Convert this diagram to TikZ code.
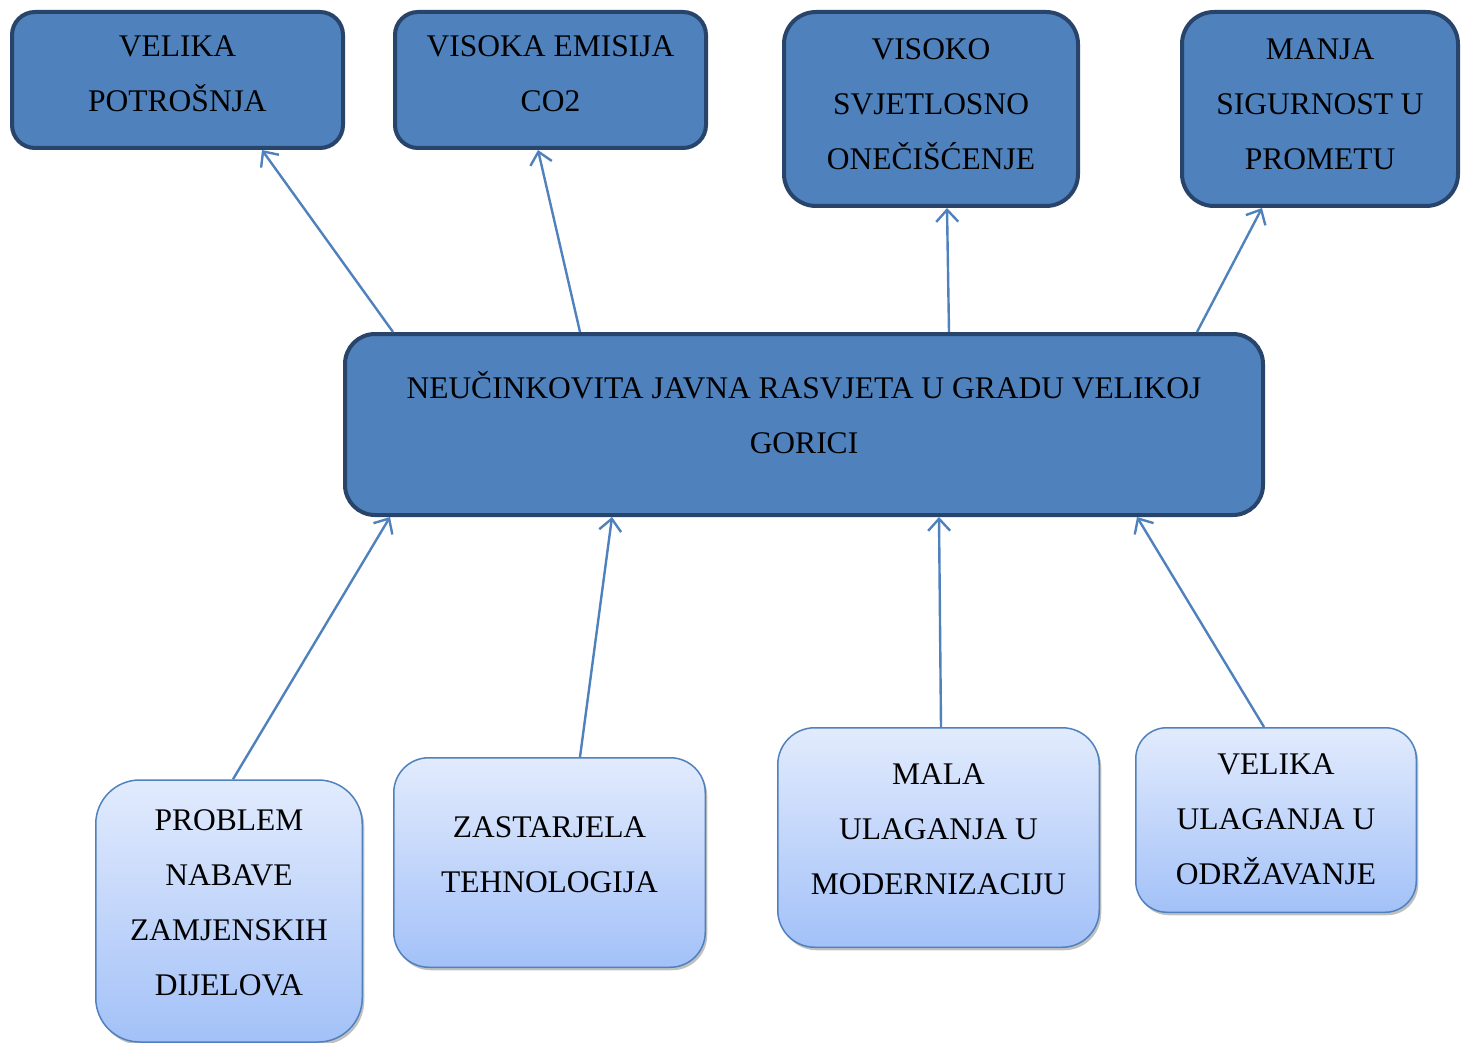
\documentclass[tikz,border=0pt]{standalone}
\usepackage{fontspec}
\setmainfont{Liberation Serif}
\usetikzlibrary{arrows.meta, positioning, calc, shadows}
\definecolor{boxfill}{RGB}{79,129,189}
\definecolor{boxline}{RGB}{40,68,106}
\definecolor{causetop}{RGB}{226,235,253}
\definecolor{causebot}{RGB}{163,193,248}
\tikzset{
every node/.style={font=\fontsize{31.5}{55}\selectfont, align=center, text height=76pt, text depth=12pt},
effect/.style={draw=boxline, line width=4pt, fill=boxfill, rounded corners=23pt},
cause/.style={draw=boxfill, line width=1.5pt, top color=causetop, bottom color=causebot,
  drop shadow={shadow xshift=2pt, shadow yshift=-3pt, opacity=0.55, fill=black!45}},
link/.style={draw=boxfill, line width=2.4pt, -{Straight Barb[length=12pt, width=22pt]}},
}

\begin{document}
\begin{tikzpicture}[x=1pt, y=-1pt]
    \useasboundingbox (0,0) rectangle (1470,1043);

    % effects
    \node[effect, minimum width=331pt, minimum height=136pt] (potrosnja) at (177.5,80) {VELIKA\\POTROŠNJA};
    \node[effect, minimum width=311pt, minimum height=136pt] (emisija) at (550.5,80) {VISOKA EMISIJA\\CO2};
    \node[effect, minimum width=294pt, minimum height=194pt, rounded corners=32pt, text height=131pt, text depth=9pt] (svjetlo) at (931,109) {VISOKO\\SVJETLOSNO\\ONEČIŠĆENJE};
    \node[effect, minimum width=276pt, minimum height=194pt, rounded corners=32pt, text height=131pt, text depth=9pt] (promet) at (1320,109) {MANJA\\SIGURNOST U\\PROMETU};

    % problem
    \node[effect, minimum width=918pt, minimum height=181pt, rounded corners=30pt, text depth=19pt] (rasvjeta) at (804,424.5) {NEUČINKOVITA JAVNA RASVJETA U GRADU VELIKOJ\\GORICI};

    % causes
    \node[cause, minimum width=266.5pt, minimum height=262pt, rounded corners=44pt, text height=186pt, text depth=17pt] (nabava) at (229,911) {PROBLEM\\NABAVE\\ZAMJENSKIH\\DIJELOVA};
    \node[cause, minimum width=311.5pt, minimum height=209.5pt, rounded corners=35pt, text depth=17pt] (tehnologija) at (549.5,862.5) {ZASTARJELA\\TEHNOLOGIJA};
    \node[cause, minimum width=321.5pt, minimum height=219.5pt, rounded corners=37pt, text height=131pt, text depth=18pt] (modernizacija) at (938.5,837.5) {MALA\\ULAGANJA U\\MODERNIZACIJU};
    \node[cause, minimum width=280.5pt, minimum height=184.5pt, rounded corners=31pt, text height=131pt, text depth=3pt] (odrzavanje) at (1276,820) {VELIKA\\ULAGANJA U\\ODRŽAVANJE};

    \draw[link] ($(rasvjeta.north west)+(50,0)$) -- ($(potrosnja.south west)+(252,0)$);
    \draw[link] ($(rasvjeta.north west)+(237,0)$) -- ($(emisija.south west)+(145,0)$);
    \draw[link] ($(rasvjeta.north west)+(606,0)$) -- ($(svjetlo.south west)+(165,0)$);
    \draw[link] ($(rasvjeta.north west)+(854,0)$) -- ($(promet.south west)+(82,0)$);

    \draw[link] ($(nabava.north west)+(138,0)$) -- ($(rasvjeta.south west)+(47,0)$);
    \draw[link] ($(tehnologija.north west)+(187,0)$) -- ($(rasvjeta.south west)+(269,0)$);
    \draw[link] ($(modernizacija.north west)+(164,0)$) -- ($(rasvjeta.south west)+(596,0)$);
    \draw[link] ($(odrzavanje.north west)+(129,0)$) -- ($(rasvjeta.south west)+(794,0)$);
\end{tikzpicture}
\end{document}
